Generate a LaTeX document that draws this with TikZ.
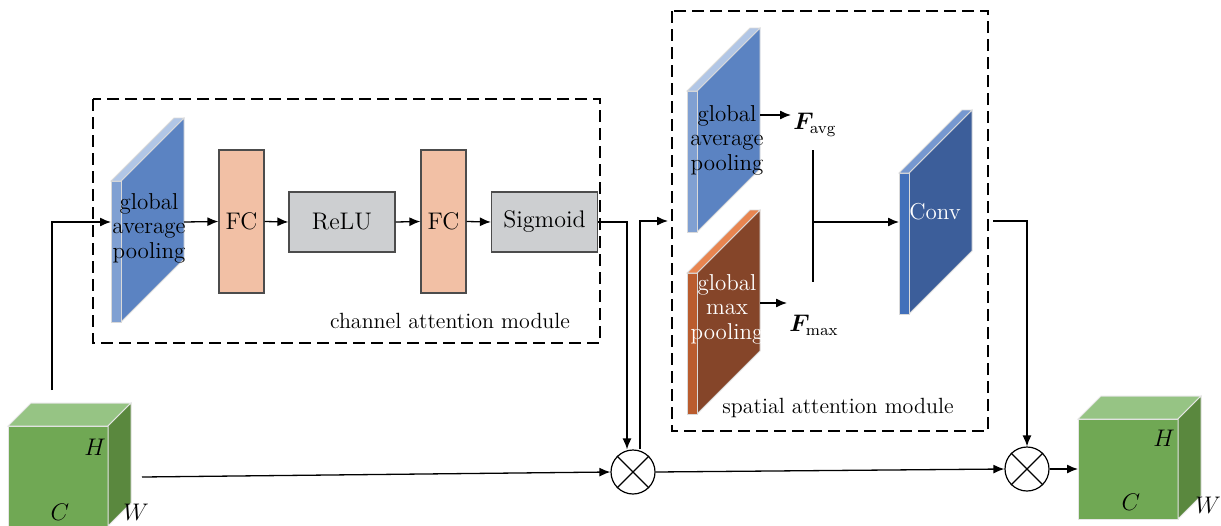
\documentclass[tikz,border=0pt]{standalone}
\usepackage{bm}
\usetikzlibrary{arrows.meta}

\definecolor{cubefront}{RGB}{112,168,84}
\definecolor{cubetop}{RGB}{150,196,132}
\definecolor{cubeside}{RGB}{90,136,62}
\definecolor{avgmain}{RGB}{91,131,194}
\definecolor{avgfront}{RGB}{128,160,210}
\definecolor{avgtop}{RGB}{177,198,230}
\definecolor{maxmain}{RGB}{133,69,41}
\definecolor{maxfront}{RGB}{186,92,46}
\definecolor{maxtop}{RGB}{232,133,80}
\definecolor{convmain}{RGB}{60,94,154}
\definecolor{convfront}{RGB}{66,112,186}
\definecolor{convtop}{RGB}{118,152,208}
\definecolor{fcfill}{RGB}{242,192,165}
\definecolor{actfill}{RGB}{205,207,209}

% feature slab: #1,#2 = top left of the thin front strip, #3/#4/#5 = main, front, top colours
\newcommand{\featslab}[5]{%
  \fill[#3,draw=white!70!gray,line width=0.4pt] (#1+10,#2) -- (#1+73,#2-63) -- (#1+73,#2+78) -- (#1+10,#2+141) -- cycle;
  \fill[#4,draw=white!70!gray,line width=0.4pt] (#1,#2) rectangle (#1+10,#2+141);
  \fill[#5,draw=white!70!gray,line width=0.4pt] (#1,#2) -- (#1+63,#2-63) -- (#1+73,#2-63) -- (#1+10,#2) -- cycle;
}

% feature cube: #1,#2 = top left of the front face, #3 = side length
\newcommand{\featcube}[3]{%
  \fill[cubefront,draw=white!80!gray,line width=0.5pt] (#1,#2) rectangle (#1+#3,#2+#3);
  \fill[cubetop,draw=white!80!gray,line width=0.5pt] (#1,#2) -- (#1+23,#2-23) -- (#1+#3+23,#2-23) -- (#1+#3,#2) -- cycle;
  \fill[cubeside,draw=white!80!gray,line width=0.5pt] (#1+#3,#2) -- (#1+#3+23,#2-23) -- (#1+#3+23,#2+#3-23) -- (#1+#3,#2+#3) -- cycle;
}

\begin{document}
\begin{tikzpicture}[x=0.5pt,y=-0.5pt,
    txt/.style={font=\fontsize{11.5}{12.3}\selectfont, align=center, inner sep=1pt},
    modlabel/.style={font=\fontsize{11}{12}\selectfont, inner sep=1pt},
    box/.style={draw=black!70, line width=0.6pt, inner sep=0pt, font=\fontsize{12}{13}\selectfont},
    fcbox/.style={box, fill=fcfill, minimum width=22.5pt, minimum height=71.5pt},
    actbox/.style={box, fill=actfill, minimum width=53pt, minimum height=30pt},
    mult/.style={circle, draw, line width=0.6pt, minimum size=22pt, inner sep=0pt},
    module/.style={dash pattern=on 6pt off 3pt, line width=0.75pt},
    arr/.style={-{Latex[length=5.5pt,width=4.5pt]}, line width=0.65pt},
    line/.style={line width=0.65pt}]

  \useasboundingbox (0,0) rectangle (1221,525);

  % dashed module frames
  \draw[module] (93,99) rectangle (600,343);
  \draw[module] (672,11) rectangle (988,431);

  % input and output feature maps
  \featcube{8}{426}{100}
  \node[txt] (hin) at (95,447) {$H$};
  \node[txt] (cin) at (60,512) {$C$};
  \node[txt] (win) at (136,512) {$W$};
  \featcube{1078}{419}{100}
  \node[txt] (hout) at (1164,438) {$H$};
  \node[txt] (cout) at (1131,502) {$C$};
  \node[txt] (wout) at (1208,505) {$W$};

  % channel attention
  \featslab{111}{181}{avgmain}{avgfront}{avgtop}
  \node[txt] (cavg) at (149,228) {global\\average\\pooling};
  \node[fcbox] (fca) at (241.5,221.5) {FC};
  \node[actbox] (relu) at (342,222) {ReLU};
  \node[fcbox] (fcb) at (443.5,221.5) {FC};
  \node[actbox] (sig) at (544.5,222) {Sigmoid};
  \node[modlabel] (clabel) at (450,321) {channel attention module};

  % spatial attention
  \featslab{687}{91}{avgmain}{avgfront}{avgtop}
  \node[txt] (savg) at (727,140) {global\\average\\pooling};
  \featslab{687}{273}{maxmain}{maxfront}{maxtop}
  \node[txt,text=white] (smax) at (727,309) {global\\max\\pooling};
  \featslab{899}{173}{convmain}{convfront}{convtop}
  \node[txt,text=white] (conv) at (935,212) {Conv};
  \node[txt,anchor=west] (favg) at (791,125) {$\bm{F}_{\mathrm{avg}}$};
  \node[txt,anchor=west] (fmax) at (787,325) {$\bm{F}_{\mathrm{max}}$};
  \node[modlabel] (slabel) at (838,408) {spatial attention module};

  % multipliers
  \node[mult] (mula) at (633,472) {};
  \draw[line width=0.6pt] (mula.north east) -- (mula.south west) (mula.north west) -- (mula.south east);
  \node[mult] (mulb) at (1027,469) {};
  \draw[line width=0.6pt] (mulb.north east) -- (mulb.south west) (mulb.north west) -- (mulb.south east);

  % connection points on the slabs and cubes
  \coordinate (inup) at (52,390);
  \coordinate (cavgin) at (111,222);
  \coordinate (cavgout) at (184,222);
  \coordinate (cubeout) at (142,477);
  \coordinate (sain) at (668,221);
  \coordinate (savgout) at (760,115);
  \coordinate (smaxout) at (760,303);
  \coordinate (mtop) at (813,150);
  \coordinate (mbot) at (813,282);
  \coordinate (mmid) at (813,222);
  \coordinate (convin) at (899,222);
  \coordinate (convout) at (993,221);
  \coordinate (cubein) at (1078,469);

  % connectors
  \draw[arr] (inup) |- (cavgin);
  \draw[arr] (cavgout) -- (fca.west);
  \draw[arr] (fca.east) -- (relu.west);
  \draw[arr] (relu.east) -- (fcb.west);
  \draw[arr] (fcb.east) -- (sig.west);
  \draw[arr] (sig.east) -| ([xshift=-3pt]mula.north);
  \draw[arr] ([xshift=3.5pt]mula.north) |- (sain);
  \draw[arr] (cubeout) -- (mula.west);
  \draw[arr] (mula.east) -- (mulb.west);
  \draw[arr] (mulb.east) -- (cubein);
  \draw[arr] (savgout) -- (savgout -| favg.west);
  \draw[arr] (smaxout) -- (smaxout -| fmax.west);
  \draw[line] (mtop) -- (mbot);
  \draw[arr] (mmid) -- (convin);
  \draw[arr] (convout) -| (mulb.north);
\end{tikzpicture}
\end{document}
